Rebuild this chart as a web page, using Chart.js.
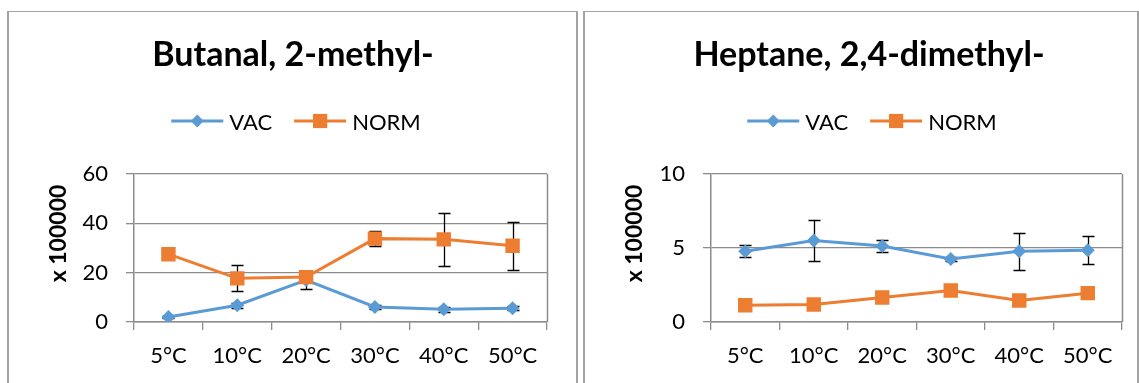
<!DOCTYPE html>
<html>
<head>
<meta charset="utf-8">
<script src="https://cdn.jsdelivr.net/npm/chart.js@4.4.1/dist/chart.umd.min.js"></script>
<style>
  html, body { margin: 0; padding: 0; background: #fff; overflow: hidden; width: 1139px; height: 383px; }
  .panel { position: absolute; top: 11px; height: 400px; box-sizing: border-box;
           border-top: 1px solid #a3a3a3; border-left: 2px solid #a3a3a3; border-right: 2px solid #a3a3a3; }
  #panelA { left: 7px; width: 571px; }
  #panelB { left: 583px; width: 556px; }
  canvas { position: absolute; top: 12px; }
  #chartA { left: 9px; }
  #chartB { left: 585px; }
</style>
</head>
<body>
<div class="panel" id="panelA"></div>
<div class="panel" id="panelB"></div>
<canvas id="chartA" width="567" height="371"></canvas>
<canvas id="chartB" width="552" height="371"></canvas>
<script>
// Temperatures on the category axis
const categories = ['5°C', '10°C', '20°C', '30°C', '40°C', '50°C'];
const seriesNames = ['VAC', 'NORM'];

// Butanal, 2-methyl- (x 100000)
const butanalVac = [2.0, 6.8, 17.0, 6.1, 5.2, 5.6];
const butanalVacErr = [0.5, 1.0, 3.5, 0.8, 1.0, 0.7];
const butanalNorm = [27.5, 17.7, 18.2, 33.8, 33.5, 30.9];
const butanalNormErr = [0.5, 5.3, 0.5, 3.0, 10.7, 9.7];
const butanalTicks = [0, 20, 40, 60];

// Heptane, 2,4-dimethyl- (x 100000)
const heptaneVac = [4.78, 5.5, 5.14, 4.26, 4.78, 4.85];
const heptaneVacErr = [0.42, 1.36, 0.41, 0.12, 1.25, 0.95];
const heptaneNorm = [1.13, 1.18, 1.66, 2.13, 1.45, 1.95];
const heptaneNormErr = [0.1, 0.1, 0.1, 0.1, 0.1, 0.1];
const heptaneTicks = [0, 5, 10];

const BLUE = '#5b9bd5';
const ORANGE = '#ed7d31';
const AXIS_GREY = '#8c8c8c';
const FONT = 'Lato';

// Vertical error bars with caps, drawn just before their own series
const errorBarPlugin = {
  id: 'errorBars',
  beforeDatasetDraw(chart, args) {
    const ds = chart.data.datasets[args.index];
    if (!ds.errors) return;
    const yScale = chart.scales.y;
    const ctx = chart.ctx;
    ctx.save();
    ctx.strokeStyle = '#000';
    ctx.lineWidth = 1.3;
    args.meta.data.forEach((pt, i) => {
      const e = ds.errors[i];
      if (e == null) return;
      const v = ds.data[i];
      const yTop = yScale.getPixelForValue(v + e);
      const yBot = yScale.getPixelForValue(v - e);
      const x = Math.round(pt.x) + 0.5;
      ctx.beginPath();
      ctx.moveTo(x, yTop); ctx.lineTo(x, yBot);
      ctx.moveTo(x - 6, Math.round(yTop) + 0.5); ctx.lineTo(x + 6, Math.round(yTop) + 0.5);
      ctx.moveTo(x - 6, Math.round(yBot) + 0.5); ctx.lineTo(x + 6, Math.round(yBot) + 0.5);
      ctx.stroke();
    });
    ctx.restore();
  }
};

function drawMarker(ctx, style, x, y, color) {
  ctx.fillStyle = color;
  ctx.beginPath();
  if (style === 'rectRot') {
    const r = 6.5;
    ctx.moveTo(x, y - r); ctx.lineTo(x + r, y); ctx.lineTo(x, y + r); ctx.lineTo(x - r, y);
    ctx.closePath();
  } else {
    const h = 7.1;
    ctx.rect(x - h, y - h, 2 * h, 2 * h);
  }
  ctx.fill();
}

// Chart title, line+marker legend, rotated axis title and plot frame
const panelDecorPlugin = {
  id: 'panelDecor',
  afterDraw(chart, args, opts) {
    const ctx = chart.ctx;
    const area = chart.chartArea;
    ctx.save();

    // right edge of the plot frame
    ctx.strokeStyle = AXIS_GREY;
    ctx.lineWidth = 1.5;
    ctx.beginPath();
    ctx.moveTo(Math.round(area.right) + 0.5, area.top);
    ctx.lineTo(Math.round(area.right) + 0.5, area.bottom);
    ctx.stroke();

    // title
    ctx.fillStyle = '#000';
    ctx.font = 'bold 34px ' + FONT;
    ctx.textAlign = 'center';
    ctx.textBaseline = 'alphabetic';
    ctx.fillText(opts.title, opts.titleX, 54);

    // legend
    ctx.font = '22px ' + FONT;
    ctx.textAlign = 'left';
    const lineLen = 52, textGap = 6, itemGap = 22;
    const items = chart.data.datasets.map(ds => ({
      label: ds.label, color: ds.borderColor, style: ds.pointStyle,
      w: lineLen + textGap + ctx.measureText(ds.label).width
    }));
    const total = items.reduce((s, it) => s + it.w, 0) + itemGap * (items.length - 1);
    let x = opts.legendX - total / 2;
    const ly = 109;
    items.forEach(it => {
      ctx.strokeStyle = it.color;
      ctx.lineWidth = 3;
      ctx.beginPath();
      ctx.moveTo(x, ly); ctx.lineTo(x + lineLen, ly);
      ctx.stroke();
      drawMarker(ctx, it.style, x + lineLen / 2, ly, it.color);
      ctx.fillStyle = '#000';
      ctx.fillText(it.label, x + lineLen + textGap, 117.5);
      x += it.w + itemGap;
    });

    // value axis title
    ctx.font = 'bold 23px ' + FONT;
    ctx.textAlign = 'center';
    ctx.textBaseline = 'middle';
    ctx.translate(opts.yTitleX, 221.5);
    ctx.rotate(-Math.PI / 2);
    ctx.fillText(opts.yTitle, 0, 0);
    ctx.restore();
  }
};

function makeChart(id, cfg) {
  const ctx = document.getElementById(id).getContext('2d');
  return new Chart(ctx, {
    type: 'line',
    data: {
      labels: categories,
      datasets: [
        {
          label: seriesNames[0], data: cfg.vac, errors: cfg.vacErr,
          borderColor: BLUE, backgroundColor: BLUE, borderWidth: 3,
          pointStyle: 'rectRot', pointRadius: 7, pointBorderWidth: 0,
          pointBackgroundColor: BLUE, tension: 0, order: 1
        },
        {
          label: seriesNames[1], data: cfg.norm, errors: cfg.normErr,
          borderColor: ORANGE, backgroundColor: ORANGE, borderWidth: 3,
          pointStyle: 'rect', pointRadius: 10.2, pointBorderWidth: 0,
          pointBackgroundColor: ORANGE, tension: 0, order: 0
        }
      ]
    },
    options: {
      responsive: false,
      animation: false,
      devicePixelRatio: 1,
      layout: { padding: { top: 162, right: cfg.rightPad, bottom: 0, left: 0 } },
      plugins: {
        legend: { display: false },
        title: { display: false },
        tooltip: { enabled: false },
        panelDecor: { title: cfg.title, titleX: 284, legendX: 287, yTitle: 'x 100000', yTitleX: 50 }
      },
      scales: {
        x: {
          type: 'category',
          offset: true,
          grid: { drawOnChartArea: false, offset: true, tickLength: 8, color: AXIS_GREY, lineWidth: 1.3 },
          border: { color: AXIS_GREY, width: 1.5 },
          ticks: { font: { family: FONT, size: 22 }, color: '#000', padding: 13, maxRotation: 0, autoSkip: false },
          afterFit(scale) { scale.height = 61; }
        },
        y: {
          min: cfg.ticks[0],
          max: cfg.ticks[cfg.ticks.length - 1],
          afterBuildTicks(scale) { scale.ticks = cfg.ticks.map(v => ({ value: v })); },
          grid: { color: AXIS_GREY, lineWidth: 1.3, tickLength: 8 },
          border: { color: AXIS_GREY, width: 1.5 },
          ticks: { font: { family: FONT, size: 22 }, color: '#000', padding: 18 },
          afterFit(scale) { scale.width = cfg.yWidth; }
        }
      }
    },
    plugins: [errorBarPlugin, panelDecorPlugin]
  });
}

makeChart('chartA', {
  title: 'Butanal, 2-methyl-',
  vac: butanalVac, vacErr: butanalVacErr,
  norm: butanalNorm, normErr: butanalNormErr,
  ticks: butanalTicks, yWidth: 125, rightPad: 29
});

makeChart('chartB', {
  title: 'Heptane, 2,4-dimethyl-',
  vac: heptaneVac, vacErr: heptaneVacErr,
  norm: heptaneNorm, normErr: heptaneNormErr,
  ticks: heptaneTicks, yWidth: 126, rightPad: 15
});
</script>
</body>
</html>
